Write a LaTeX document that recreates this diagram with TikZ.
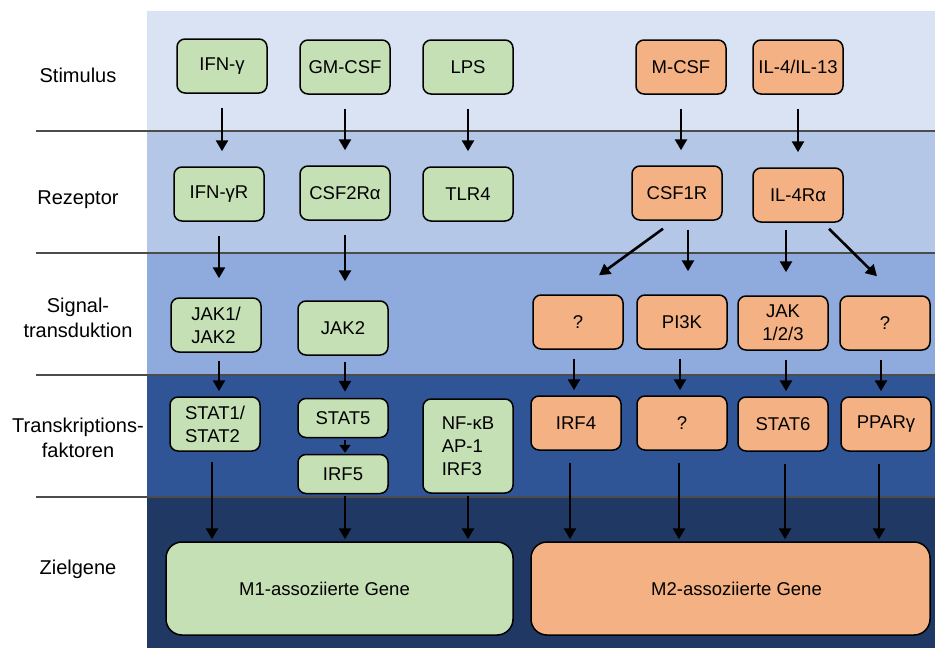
\documentclass[tikz,border=0pt]{standalone}
\usepackage{fontspec}
\setmainfont{Liberation Sans}
\usetikzlibrary{arrows.meta}
\definecolor{bandA}{HTML}{DAE3F3}
\definecolor{bandB}{HTML}{B4C7E7}
\definecolor{bandC}{HTML}{8FAADC}
\definecolor{bandD}{HTML}{2F5597}
\definecolor{bandE}{HTML}{203864}
\definecolor{mone}{HTML}{C5E0B4}
\definecolor{mtwo}{HTML}{F4B183}

\begin{document}
\begin{tikzpicture}[x=1pt,y=-1pt,
	box/.style={draw=black,line width=1.5pt,rounded corners=8pt,minimum width=90pt,minimum height=54pt,inner sep=0pt,align=center,font=\fontsize{18.5}{23}\selectfont},
	gbox/.style={box,fill=mone},
	obox/.style={box,fill=mtwo},
	lbl/.style={align=center,font=\fontsize{20}{25}\selectfont},
	arr/.style={-{Triangle[width=12pt,length=11pt]},line width=2.6pt}]
		%
		\useasboundingbox (0,0) rectangle (935,648);
		\fill [bandA] (147,11) rectangle (935,131);
		\fill [bandB] (147,131) rectangle (935,253);
		\fill [bandC] (147,253) rectangle (935,375);
		\fill [bandD] (147,375) rectangle (935,497);
		\fill [bandE] (147,497) rectangle (935,648);
		\foreach \y in {131,253,375,497}
			\draw [black!70,line width=1.2pt] (36,\y) -- (935,\y);
		%
		\node[lbl] (L1) at (78,75) {Stimulus};
		\node[lbl] (L2) at (78,200) {Rezeptor};
		\node[lbl] (L3) at (78,318) {Signal-\\transduktion};
		\node[lbl] (L4) at (78,438) {Transkriptions-\\faktoren};
		\node[lbl] (L5) at (78,569) {Zielgene};
		%
		\node[gbox] (S1) at (222,66) {IFN-γ};
		\node[gbox] (S2) at (345,67) {GM-CSF};
		\node[gbox] (S3) at (468,67) {LPS};
		\node[obox] (S4) at (681,67) {M-CSF};
		\node[obox] (S5) at (798,67) {IL-4/IL-13};
		%
		\node[gbox] (R1) at (219,194) {IFN-γR};
		\node[gbox] (R2) at (345,193) {CSF2Rα};
		\node[gbox] (R3) at (468,194) {TLR4};
		\node[obox] (R4) at (677,193) {CSF1R};
		\node[obox] (R5) at (798,195) {IL-4Rα};
		%
		\node[gbox,align=left] (T1) at (216,325) {JAK1/\\JAK2};
		\node[gbox] (T2) at (343,328) {JAK2};
		\node[obox] (T3) at (578,322) {?};
		\node[obox] (T4) at (682,322) {PI3K};
		\node[obox] (T5) at (783,323) {JAK\\1/2/3};
		\node[obox] (T6) at (885,323) {?};
		%
		\node[gbox,align=left] (F1) at (215,424) {STAT1/\\STAT2};
		\node[gbox,minimum height=39pt] (F2) at (343,418) {STAT5};
		\node[gbox,minimum height=39pt] (F3) at (343,474) {IRF5};
		\node[gbox,align=left,minimum height=94pt] (F4) at (468,446) {NF-κB\\AP-1\\IRF3};
		\node[obox] (F5) at (576,423) {IRF4};
		\node[obox] (F6) at (682,423) {?};
		\node[obox] (F7) at (783,424) {STAT6};
		\node[obox] (F8) at (886,424) {PPARγ};
		%
		\node[gbox,minimum width=347pt,minimum height=93pt,rounded corners=16pt] (G1) at (339.5,588.5) {M1-assoziierte Gene\hspace*{30pt}};
		\node[obox,minimum width=399pt,minimum height=93pt,rounded corners=16pt] (G2) at (730.5,588.5) {\hspace*{12pt}M2-assoziierte Gene};
		%
		\foreach \a/\b in {S1/R1,S2/R2,S3/R3,S4/R4,S5/R5}
			\draw [arr,shorten <=14pt,shorten >=15pt] (\a.south) -- (\a.south |- \b.north);
		\draw [arr,shorten <=14pt,shorten >=19pt] (R1.south) -- (R1.south |- T1.north);
		\draw [arr,shorten <=14pt,shorten >=19pt] (R2.south) -- (R2.south |- T2.north);
		\draw [arr,shorten <=9pt,shorten >=23pt] ([xshift=6pt]T4.north |- R4.south) -- ([xshift=6pt]T4.north);
		\draw [arr,shorten <=7pt,shorten >=23pt] ([xshift=3pt]T5.north |- R5.south) -- ([xshift=3pt]T5.north);
		\draw [arr] ([shift={(-14,8)}]R4.south) -- ([shift={(21,-19)}]T3.north);
		\draw [arr] ([shift={(31,6)}]R5.south) -- ([shift={(-8,-19)}]T6.north);
		%
		\draw [arr,shorten <=8pt,shorten >=5pt] ([xshift=3pt]T1.south) -- ([xshift=3pt]T1.south |- F1.north);
		\draw [arr,shorten <=6pt,shorten >=6pt] ([xshift=2pt]T2.south) -- ([xshift=2pt]T2.south |- F2.north);
		\draw [arr,shorten <=9pt,shorten >=5pt] ([xshift=-4pt]T3.south) -- ([xshift=-4pt]T3.south |- F5.north);
		\draw [arr,shorten <=9pt,shorten >=5pt] ([xshift=-2pt]T4.south) -- ([xshift=-2pt]T4.south |- F6.north);
		\draw [arr,shorten <=9pt,shorten >=5pt] ([xshift=3pt]T5.south) -- ([xshift=3pt]T5.south |- F7.north);
		\draw [arr,shorten <=9pt,shorten >=5pt] ([xshift=-4pt]T6.south) -- ([xshift=-4pt]T6.south |- F8.north);
		\draw [-{Triangle[width=11pt,length=8pt]},line width=2.6pt,shorten <=2pt,shorten >=1pt] ([xshift=2pt]F2.south) -- ([xshift=2pt]F2.south |- F3.north);
		%
		\draw [arr,shorten <=10pt,shorten >=2pt] ([xshift=-3pt]F1.south) -- ([xshift=-3pt]F1.south |- G1.north);
		\draw [arr,shorten <=2pt,shorten >=2pt] ([xshift=2pt]F3.south) -- ([xshift=2pt]F3.south |- G1.north);
		\draw [arr,shorten <=2pt,shorten >=2pt] (F4.south) -- (F4.south |- G1.north);
		\draw [arr,shorten <=12pt,shorten >=2pt] ([xshift=-6pt]F5.south) -- ([xshift=-6pt]F5.south |- G2.north);
		\draw [arr,shorten <=12pt,shorten >=2pt] ([xshift=-3pt]F6.south) -- ([xshift=-3pt]F6.south |- G2.north);
		\draw [arr,shorten <=12pt,shorten >=2pt] ([xshift=2pt]F7.south) -- ([xshift=2pt]F7.south |- G2.north);
		\draw [arr,shorten <=12pt,shorten >=2pt] ([xshift=-7pt]F8.south) -- ([xshift=-7pt]F8.south |- G2.north);
		%
	\end{tikzpicture}
\end{document}
